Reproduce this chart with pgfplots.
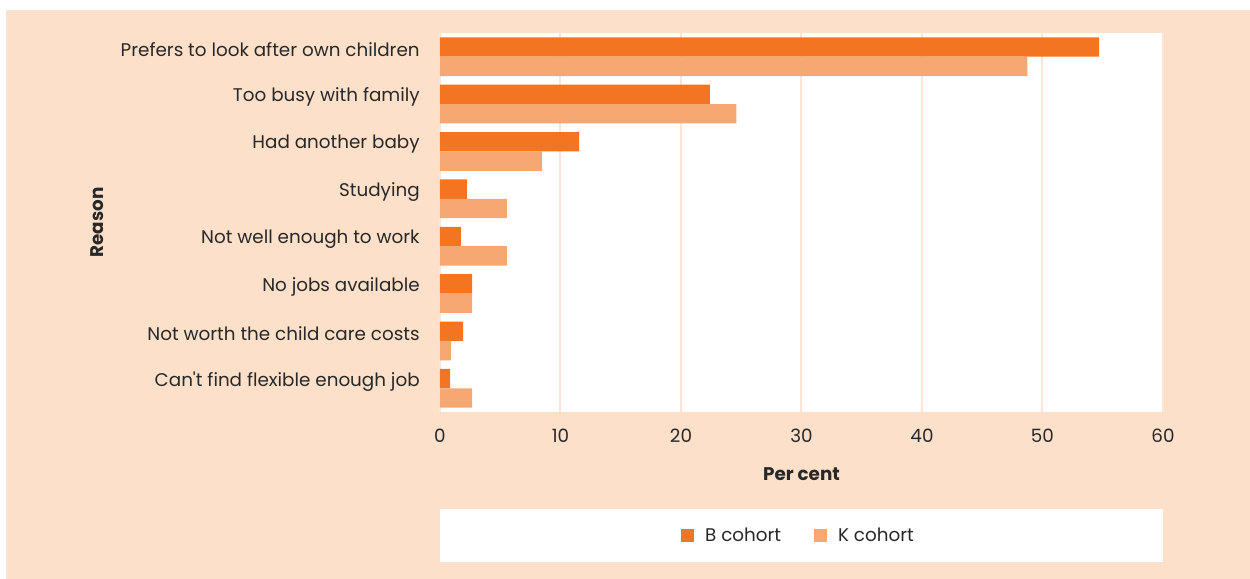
\documentclass[border=0pt]{standalone}
\usepackage{pgfplots}
\pgfplotsset{compat=1.18}
\usepackage{fontspec}
\setmainfont{Poppins}[Ligatures=TeXOff]
\definecolor{peach}{RGB}{253,224,201}
\definecolor{gridc}{RGB}{252,229,212}
\definecolor{borange}{RGB}{243,117,33}
\definecolor{korange}{RGB}{247,168,114}
\definecolor{txt}{RGB}{40,40,40}
\begin{document}
\begin{tikzpicture}
\path[use as bounding box] (0pt,0pt) rectangle (750pt,347.4pt);
\fill[peach] (3.6pt,0pt) rectangle (750pt,341.4pt);
\fill[white] (264pt,10.2pt) rectangle (697.8pt,42pt);
\begin{axis}[
  at={(264pt,100.2pt)}, anchor=south west,
  scale only axis, width=433.8pt, height=227.4pt,
  xbar, bar width=0.41,
  xmin=0, xmax=60, ymin=-0.5, ymax=7.5,
  xtick={0,10,...,60},
  ytick={0,...,7},
  yticklabels={Can't find flexible enough job,Not worth the child care costs,No jobs available,Not well enough to work,Studying,Had another baby,Too busy with family,Prefers to look after own children},
  axis line style={draw=none},
  major tick length=0pt,
  xmajorgrids, ymajorgrids=false,
  grid style={gridc, line width=1.2pt},
  axis background/.style={fill=white},
  /pgf/number format/assume math mode=true,
  tick label style={font=\fontsize{11}{13}\selectfont, text=txt, inner sep=0pt},
  yticklabel style={anchor=east, yshift=4.2pt},
  yticklabel shift=12pt,
  xticklabel style={anchor=north},
  xticklabel shift=10pt,
  legend style={at={(0.5,-0.3259)}, anchor=center, draw=none, fill=none, inner sep=0pt,
    legend columns=2, font=\fontsize{11}{13}\selectfont,
    /tikz/every odd column/.append style={column sep=1.8pt},
    /tikz/every even column/.append style={column sep=15pt},
    nodes={text=txt, inner sep=0pt, inner xsep=4.8pt}},
  legend image code/.code={\fill[#1] (0pt,-3.9pt) rectangle (7.8pt,3.9pt);},
]
\addplot[fill=borange, draw=none, bar shift=0.205] coordinates {
 (0.83,0) (1.91,1) (2.66,2) (1.74,3) (2.24,4) (11.55,5) (22.4,6) (54.7,7)};
\addplot[fill=korange, draw=none, bar shift=-0.205] coordinates {
 (2.66,0) (0.91,1) (2.66,2) (5.56,3) (5.56,4) (8.47,5) (24.6,6) (48.75,7)};
\legend{B cohort, K cohort}
\end{axis}
\node[font=\fontsize{11}{13}\selectfont\bfseries, text=txt] at (480.9pt,63pt) {Per cent};
\node[font=\fontsize{11}{13}\selectfont\bfseries, text=txt, rotate=90] at (58.2pt,213.9pt) {Reason};
\end{tikzpicture}
\end{document}
